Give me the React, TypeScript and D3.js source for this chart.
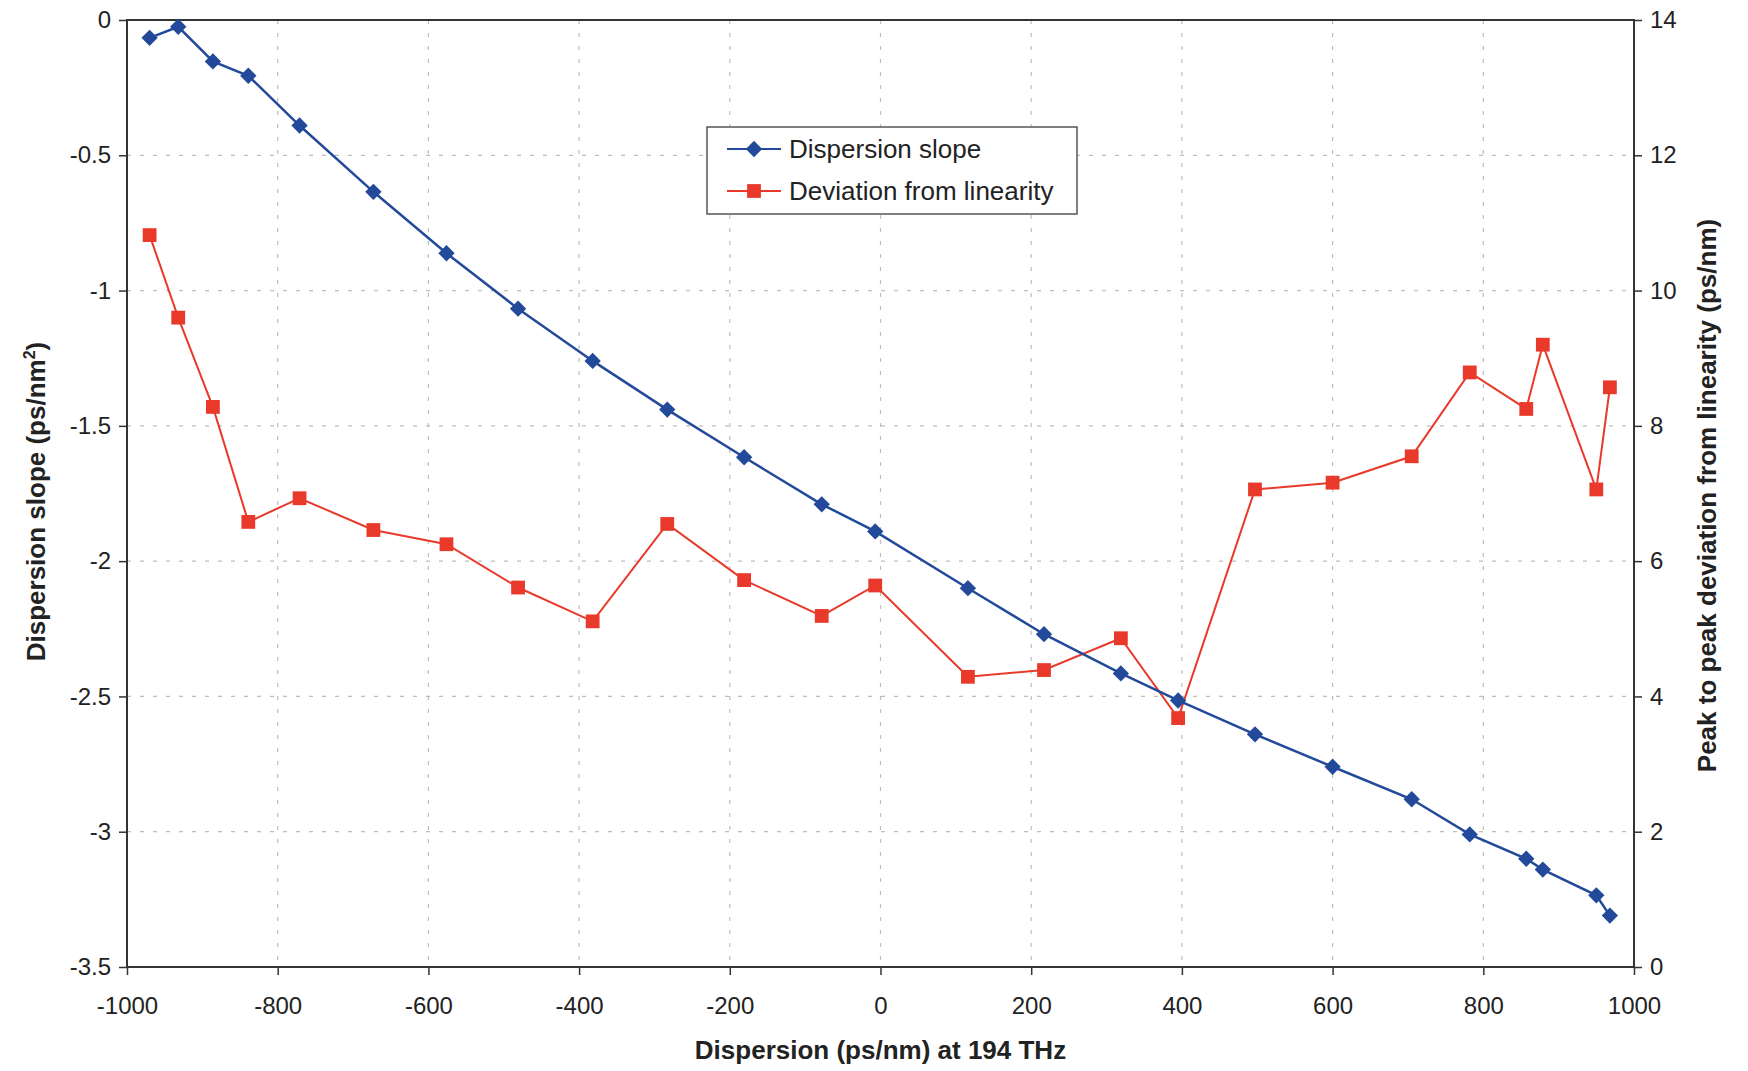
import React, { useEffect, useRef } from "react";
import * as d3 from "d3";

const dispersion = [-970, -932, -886, -839, -771, -673, -576, -481, -382, -283, -181, -78, -7, 116, 217, 319, 395, 497, 600, 705, 782, 857, 879, 950, 968];
const slope = [-0.066, -0.025, -0.153, -0.206, -0.39, -0.635, -0.862, -1.067, -1.26, -1.44, -1.616, -1.79, -1.89, -2.1, -2.27, -2.415, -2.515, -2.64, -2.76, -2.88, -3.01, -3.1, -3.14, -3.235, -3.31];
const deviation = [10.82, 9.6, 8.28, 6.58, 6.93, 6.46, 6.25, 5.61, 5.11, 6.55, 5.72, 5.19, 5.64, 4.29, 4.39, 4.86, 3.68, 7.06, 7.16, 7.55, 8.79, 8.25, 9.2, 7.06, 8.57];

const xTicks = [-1000, -800, -600, -400, -200, 0, 200, 400, 600, 800, 1000];
const yLeftTicks = [0, -0.5, -1, -1.5, -2, -2.5, -3, -3.5];
const yRightTicks = [0, 2, 4, 6, 8, 10, 12, 14];

const seriesNames = ["Dispersion slope", "Deviation from linearity"];

const W = 1748, H = 1071;
const M = { left: 127, right: 1634, top: 20, bottom: 967 };
const BLUE = "#234a9a";
const RED = "#e8392b";
const FONT = "'Liberation Sans', Arial, Helvetica, sans-serif";

export default function App() {
  const ref = useRef<SVGSVGElement>(null);
  useEffect(() => {
    const svg = d3.select(ref.current);
    svg.selectAll("*").remove();
    const x = d3.scaleLinear().domain([-1000, 1000]).range([M.left, M.right]);
    const yL = d3.scaleLinear().domain([-3.5, 0]).range([M.bottom, M.top]);
    const yR = d3.scaleLinear().domain([0, 14]).range([M.bottom, M.top]);

    svg.append("rect").attr("width", W).attr("height", H).attr("fill", "white");

    // grid
    const grid = svg.append("g").attr("stroke", "#bdbdbd").attr("stroke-width", 1.2).attr("stroke-dasharray", "4,9");
    xTicks.slice(1, -1).forEach((t) => {
      grid.append("line").attr("x1", x(t)).attr("x2", x(t)).attr("y1", M.top).attr("y2", M.bottom);
    });
    yLeftTicks.slice(1, -1).forEach((t) => {
      grid.append("line").attr("x1", M.left).attr("x2", M.right).attr("y1", yL(t)).attr("y2", yL(t));
    });

    // frame
    svg.append("rect").attr("x", M.left).attr("y", M.top).attr("width", M.right - M.left).attr("height", M.bottom - M.top)
      .attr("fill", "none").attr("stroke", "#333").attr("stroke-width", 2);

    const tickColor = "#333";
    const xa = svg.append("g").attr("transform", `translate(0,${M.bottom})`)
      .call(d3.axisBottom(x).tickValues(xTicks).tickSize(8).tickPadding(22).tickFormat((d: any) => String(d)));
    const yla = svg.append("g").attr("transform", `translate(${M.left},0)`)
      .call(d3.axisLeft(yL).tickValues(yLeftTicks).tickSize(8).tickPadding(8).tickFormat((d: any) => String(d)));
    const yra = svg.append("g").attr("transform", `translate(${M.right},0)`)
      .call(d3.axisRight(yR).tickValues(yRightTicks).tickSize(8).tickPadding(8).tickFormat((d: any) => String(d)));
    [xa, yla, yra].forEach((g) => {
      g.select(".domain").remove();
      g.selectAll("line").attr("stroke", tickColor).attr("stroke-width", 1.5);
      g.selectAll("text").attr("font-family", FONT).attr("font-size", 24).attr("fill", "#222");
    });

    // titles
    svg.append("text").attr("x", (M.left + M.right) / 2).attr("y", 1059).attr("text-anchor", "middle")
      .attr("font-family", FONT).attr("font-weight", "bold").attr("font-size", 26).attr("fill", "#222")
      .text("Dispersion (ps/nm) at 194 THz");
    const lt = svg.append("text").attr("transform", `translate(45,${(M.top + M.bottom) / 2 + 8}) rotate(-90)`)
      .attr("text-anchor", "middle").attr("font-family", FONT).attr("font-weight", "bold").attr("font-size", 26).attr("fill", "#222");
    lt.append("tspan").text("Dispersion slope (ps/nm");
    lt.append("tspan").attr("font-size", 16).attr("dy", -10).text("2");
    lt.append("tspan").attr("dy", 10).text(")");
    svg.append("text").attr("transform", `translate(1716,${(M.top + M.bottom) / 2 + 2}) rotate(-90)`)
      .attr("text-anchor", "middle").attr("font-family", FONT).attr("font-weight", "bold").attr("font-size", 26).attr("fill", "#222")
      .text("Peak to peak deviation from linearity (ps/nm)");

    // lines
    const idx = d3.range(dispersion.length);
    const blueLine = d3.line<number>().x((i) => x(dispersion[i])).y((i) => yL(slope[i]));
    const redLine = d3.line<number>().x((i) => x(dispersion[i])).y((i) => yR(deviation[i]));
    svg.append("path").attr("d", redLine(idx)).attr("fill", "none").attr("stroke", RED).attr("stroke-width", 2);
    svg.append("path").attr("d", blueLine(idx)).attr("fill", "none").attr("stroke", BLUE).attr("stroke-width", 2.5);

    const diamond = d3.symbol().type(d3.symbolDiamond2).size(170);
    const square = d3.symbol().type(d3.symbolSquare).size(190);
    svg.append("g").selectAll("path").data(idx).join("path")
      .attr("d", square as any).attr("transform", (i) => `translate(${x(dispersion[i])},${yR(deviation[i])})`).attr("fill", RED);
    svg.append("g").selectAll("path").data(idx).join("path")
      .attr("d", diamond as any).attr("transform", (i) => `translate(${x(dispersion[i])},${yL(slope[i])})`).attr("fill", BLUE);

    // legend
    const lg = svg.append("g").attr("transform", "translate(707,127)");
    lg.append("rect").attr("width", 370).attr("height", 87).attr("fill", "white").attr("stroke", "#555").attr("stroke-width", 1.5);
    const rows = [
      { name: seriesNames[0], color: BLUE, sym: diamond, y: 22 },
      { name: seriesNames[1], color: RED, sym: square, y: 64 },
    ];
    rows.forEach((r) => {
      lg.append("line").attr("x1", 20).attr("x2", 74).attr("y1", r.y).attr("y2", r.y).attr("stroke", r.color).attr("stroke-width", 2);
      lg.append("path").attr("d", r.sym as any).attr("transform", `translate(47,${r.y})`).attr("fill", r.color);
      lg.append("text").attr("x", 82).attr("y", r.y + 9).attr("font-family", FONT).attr("font-size", 26).attr("fill", "#222").text(r.name);
    });
  }, []);
  return (
    <svg ref={ref} width={W} height={H} style={{ position: "absolute", left: 0, top: 0, display: "block" }} />
  );
}
